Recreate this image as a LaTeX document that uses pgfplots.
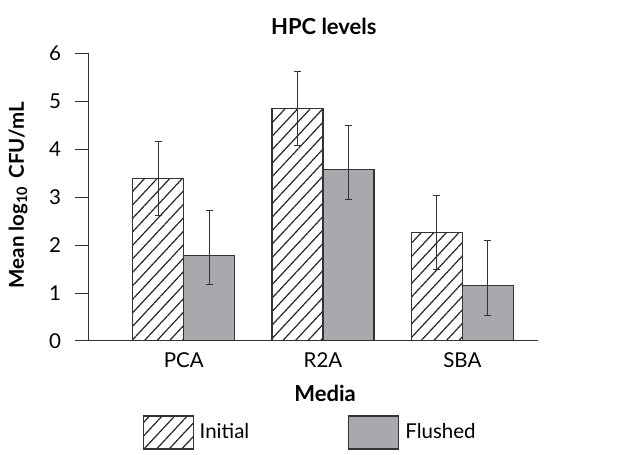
\documentclass[border=0pt]{standalone}
\usepackage{fontspec}
\setmainfont{Lato}
\usepackage{pgfplots}
\pgfplotsset{compat=1.18}
\usetikzlibrary{patterns.meta}
\definecolor{edge}{HTML}{333333}
\definecolor{flush}{HTML}{A7A9AC}
\definecolor{errc}{HTML}{333333}
\begin{document}
\fontsize{20.5}{24}\selectfont
\begin{tikzpicture}
\path[use as bounding box] (0,0) rectangle (633pt,455pt);
\begin{axis}[
  at={(89pt,114pt)}, anchor=south west,
  scale only axis, width=449pt, height=287.7pt,
  xmin=-0.68, xmax=2.543, ymin=0, ymax=6,
  ybar=0pt, bar width=51pt,
  axis x line*=bottom, axis y line*=left,
  axis line style={edge, line width=1pt, -},
  xtick={0,1,2}, xticklabels={PCA,R2A,SBA},
  x tick style={draw=none},
  xticklabel style={yshift=9pt},
  yticklabel style={xshift=-7pt},
  ytick={0,1,2,3,4,5,6},
  y tick style={edge, line width=1pt},
  tick align=outside, major tick length=14pt,
  /pgf/number format/assume math mode=true,
  title={\fontsize{22}{26}\selectfont\bfseries HPC levels},
  title style={at={(axis description cs:0.523,1.074)}, anchor=center},
  xlabel={\fontsize{22}{26}\selectfont\bfseries Media},
  xlabel style={at={(axis description cs:0.526,-0.181)}, anchor=center},
  ylabel={\bfseries Mean log\textsubscript{10}\hspace{0.15em} CFU/mL},
  ylabel style={at={(axis description cs:-0.158,0.507)}, anchor=center},
  legend columns=2,
  legend style={at={(axis description cs:0.497,-0.318)}, anchor=center, draw=none,
    nodes={inner xsep=6pt},
    /tikz/column 2/.style={column sep=93pt}},
  legbox/.style={legend image code/.code={\draw[##1, line width=1.1pt] (0pt,-16.5pt) rectangle (50pt,16.5pt);}},
  errstyle/.style={error bars/.cd, y dir=both, y explicit,
    error bar style={errc, line width=1.1pt},
    error mark options={rotate=90, errc, mark size=3.6pt, line width=1.1pt}},
]
\addplot[draw=edge, line width=1.1pt, pattern={Lines[angle=47, distance=9.2pt, line width=1.2pt]}, pattern color=black!85, legbox, errstyle]
coordinates {
 (0,3.39) += (0,0.77) -= (0,0.78)
 (1,4.85) += (0,0.77) -= (0,0.78)
 (2,2.26) += (0,0.77) -= (0,0.77)
};
\addplot[draw=edge, line width=1.1pt, fill=flush, legbox, errstyle]
coordinates {
 (0,1.78) += (0,0.94) -= (0,0.61)
 (1,3.57) += (0,0.93) -= (0,0.62)
 (2,1.15) += (0,0.94) -= (0,0.61)
};
\legend{Initial, Flushed}
\end{axis}
\end{tikzpicture}
\end{document}
